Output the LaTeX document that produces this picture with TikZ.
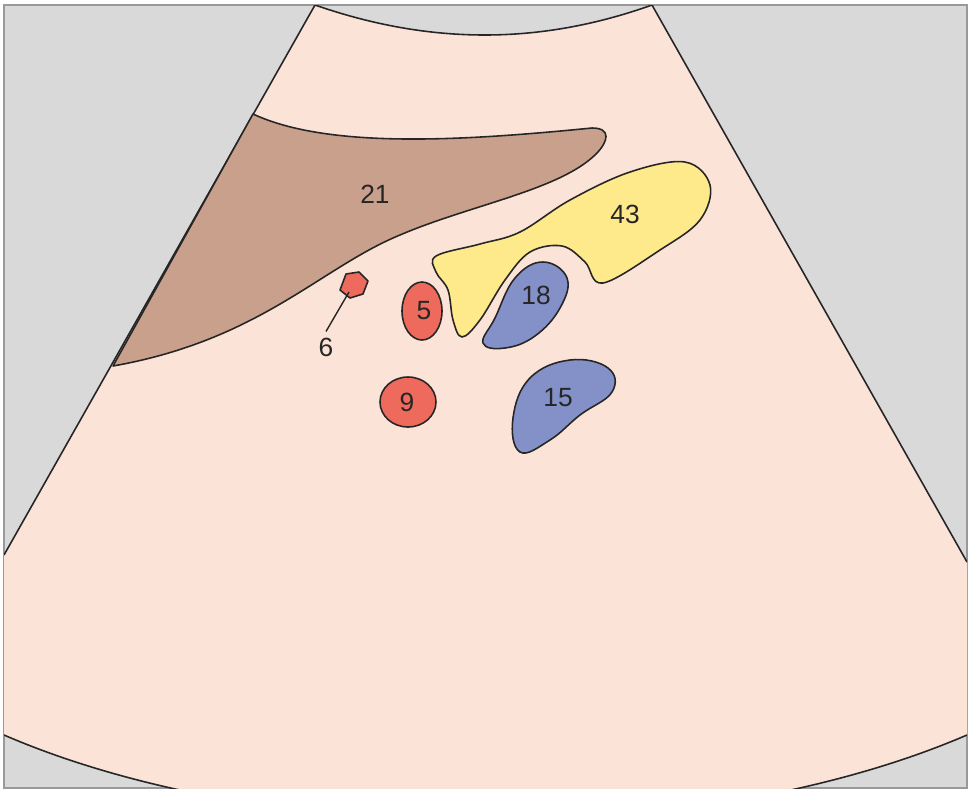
\documentclass[tikz,border=0pt]{standalone}
\usepackage{fontspec}
\setmainfont{Liberation Sans}
\begin{document}
\begin{tikzpicture}[x=0.02cm,y=-0.02cm,
  organ/.style={draw=black!85,line width=0.9pt,line join=round},
  lbl/.style={font=\fontsize{15}{17}\selectfont,text=black!85}]
\useasboundingbox (0,0) rectangle (971,792);
\fill[white] (0,0) rectangle (971,792);
\fill[gray!30!white,draw=gray!80,line width=0.6pt] (4,5) rectangle (967,788);
\begin{scope}
\clip (4,5) rectangle (967,788);
\fill[fill={rgb,255:red,252;green,227;blue,216}] (315,5) .. controls (430,45) and (540,45) .. (652,5)
  -- (967,562) -- (967,735) .. controls (700,850) and (270,850) .. (4,735) -- (4,555) -- cycle;
\draw[black!85,line width=0.9pt] (4,555) -- (315,5) .. controls (430,45) and (540,45) .. (652,5) -- (967,562);
\draw[black!85,line width=0.9pt] (967,735) .. controls (700,850) and (270,850) .. (4,735);
\end{scope}
% 21
\path[organ,fill={rgb,255:red,201;green,160;blue,140}] (253,114) .. controls (330,150) and (470,140) .. (592,128)
  .. controls (612,128) and (608,142) .. (596,154)
  .. controls (560,190) and (470,205) .. (400,235)
  .. controls (320,268) and (260,340) .. (113,366) -- cycle;
\node[lbl] (l21) at (375,194) {21};
% 43
\draw[organ,fill={rgb,255:red,254;green,233;blue,139}] plot[smooth cycle,tension=0.6] coordinates
 {(436,256) (480,244) (520,232) (570,200) (630,172) (685,162) (710,185) (700,220) (660,250) (603,283) (585,262) (562,246) (530,252) (505,280) (480,320) (462,337) (453,320) (448,290) (436,272)};
\node[lbl] (l43) at (625,214) {43};
% 18
\draw[organ,fill={rgb,255:red,132;green,144;blue,200}] plot[smooth cycle,tension=0.7] coordinates
 {(483,343) (495,318) (515,278) (543,262) (567,278) (560,308) (535,336) (505,348)};
\node[lbl] (l18) at (536,295) {18};
% 15
\draw[organ,fill={rgb,255:red,132;green,144;blue,200}] plot[smooth cycle,tension=0.7] coordinates
 {(520,452) (513,418) (530,378) (570,360) (608,368) (612,392) (580,415) (550,440)};
\node[lbl] (l15) at (558,398) {15};
% 5, 9
\draw[organ,fill={rgb,255:red,238;green,106;blue,92}] (422,311) ellipse [x radius=20,y radius=29];
\node[lbl] (l5) at (424,311) {5};
\draw[organ,fill={rgb,255:red,238;green,106;blue,92}] (408,402) ellipse [x radius=28,y radius=25];
\node[lbl] (l9) at (407,402) {9};
% 6
\draw[organ,fill={rgb,255:red,238;green,106;blue,92}] (346,274) -- (359,272) -- (368,281) -- (363,294) -- (350,298) -- (340,290) -- cycle;
\coordinate (p6) at (349,292);
\node[lbl] (l6) at (326,347) {6};
\draw[black!85,line width=0.8pt] (p6) -- (l6.north);
\end{tikzpicture}
\end{document}
